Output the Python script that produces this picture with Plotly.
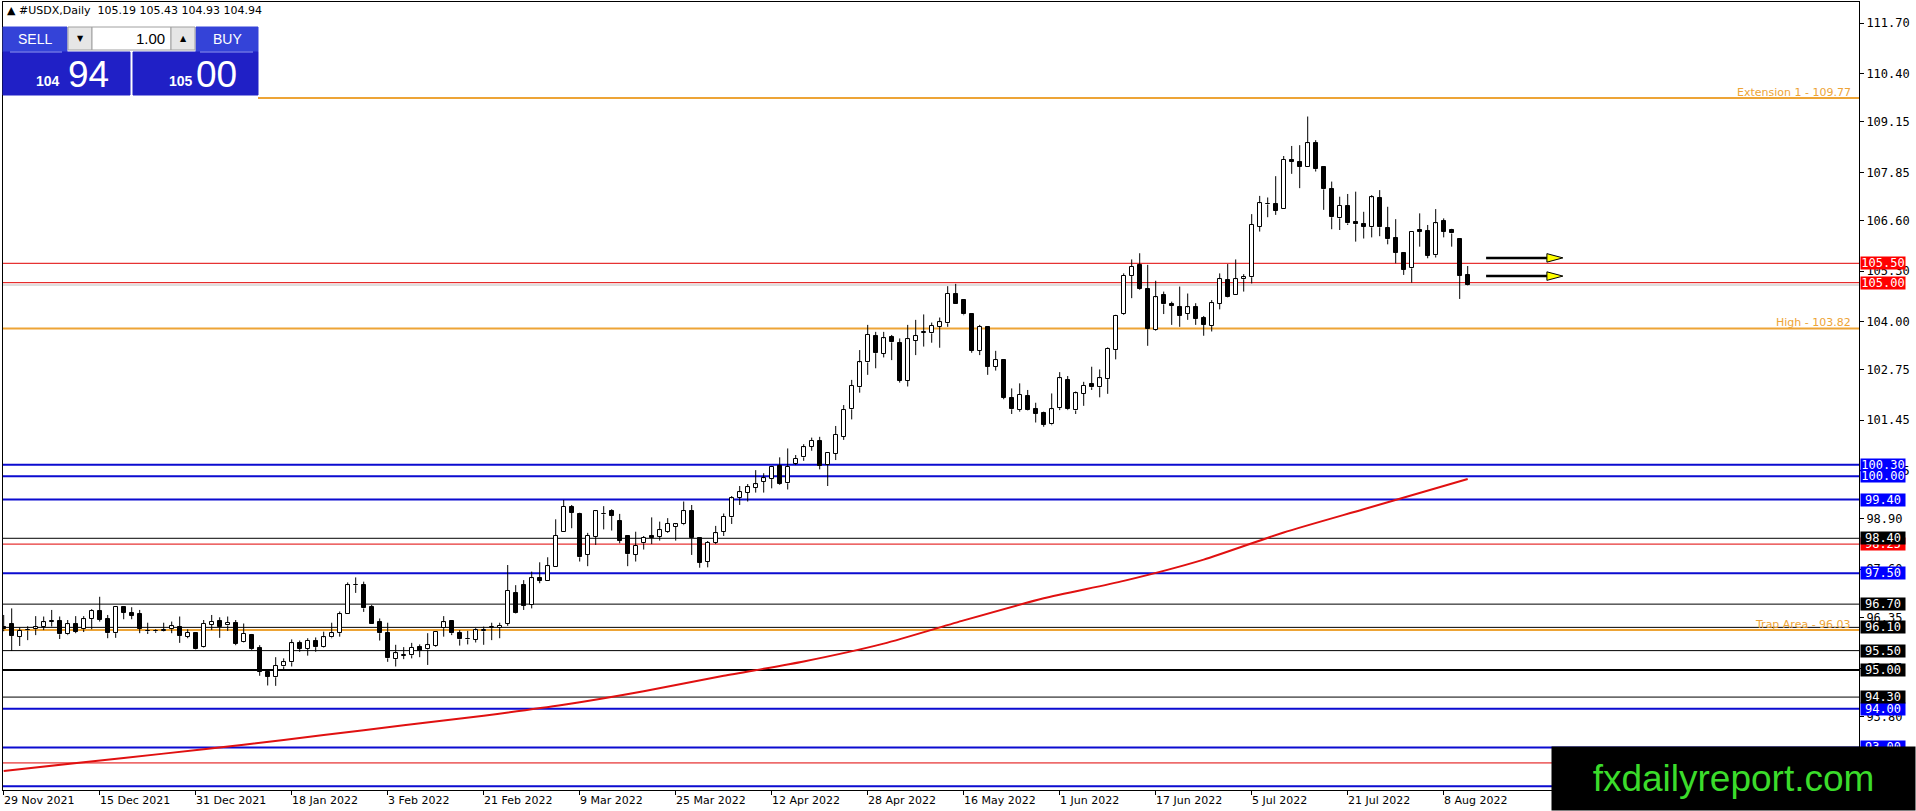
import plotly.graph_objects as go

# #USDX daily bars from 29 Nov 2021 to 11 Aug 2022
opens = [96.12, 96.19, 95.86, 96.02, 96.05, 96.12, 96.24, 96.27, 95.92, 96.18,
         96.05, 96.32, 96.52, 96.31, 95.95, 96.62, 96.48, 96.44, 96.01, 96.01,
         96.00, 96.05, 96.10, 95.86, 95.96, 95.60, 96.17, 96.26, 96.15, 96.22,
         95.71, 95.90, 95.56, 94.95, 94.81, 95.09, 95.20, 95.69, 95.54, 95.75,
         95.60, 95.84, 95.95, 96.44, 97.19, 97.19, 96.62, 96.25, 95.95, 95.28,
         95.37, 95.38, 95.59, 95.53, 95.63, 96.08, 96.26, 95.95, 95.79, 95.78,
         96.00, 96.08, 96.08, 96.19, 97.00, 97.19, 96.68, 97.37, 97.31, 97.67,
         98.57, 99.20, 99.04, 97.97, 98.44, 99.02, 99.11, 98.85, 98.46, 97.97,
         98.27, 98.46, 98.44, 98.57, 98.70, 98.76, 99.10, 98.40, 97.80, 98.29,
         98.57, 98.94, 99.45, 99.58, 99.71, 99.86, 99.93, 100.27, 99.82, 100.33,
         100.49, 100.76, 100.92, 100.29, 100.58, 101.02, 101.73, 102.30, 102.94, 103.62,
         103.16, 103.59, 103.43, 102.46, 103.50, 103.70, 103.69, 103.86, 103.95, 104.72,
         104.54, 104.19, 103.24, 103.86, 102.83, 103.00, 102.01, 101.71, 102.07, 101.73,
         101.63, 101.34, 101.76, 102.50, 101.70, 102.13, 102.38, 102.30, 102.51, 103.26,
         104.19, 105.17, 105.46, 104.83, 103.78, 104.68, 104.45, 104.36, 104.19, 104.36,
         104.08, 103.88, 104.45, 105.07, 104.68, 105.09, 105.14, 106.45, 107.02, 107.03,
         106.90, 108.18, 108.12, 107.98, 108.61, 107.98, 107.41, 106.66, 106.99, 106.56,
         106.51, 106.43, 107.18, 106.40, 106.16, 105.76, 105.37, 106.36, 106.33, 105.71,
         106.59, 106.36, 106.14, 105.19]
highs = [96.42, 96.59, 96.10, 96.13, 96.39, 96.38, 96.55, 96.38, 96.29, 96.39,
         96.39, 96.57, 96.89, 96.42, 96.65, 96.65, 96.62, 96.55, 96.22, 96.05,
         96.22, 96.25, 96.38, 96.05, 95.97, 96.29, 96.42, 96.36, 96.38, 96.29,
         96.20, 95.93, 95.64, 95.00, 95.33, 95.30, 95.79, 95.76, 95.82, 95.84,
         95.99, 96.22, 96.51, 97.26, 97.39, 97.28, 96.68, 96.33, 96.22, 95.65,
         95.59, 95.70, 95.66, 95.95, 96.00, 96.39, 96.27, 96.03, 96.01, 96.08,
         96.12, 96.22, 96.22, 97.71, 97.19, 97.32, 97.54, 97.78, 97.91, 98.89,
         99.39, 99.26, 99.06, 98.54, 99.13, 99.23, 99.15, 99.03, 98.48, 98.57,
         98.46, 98.94, 98.83, 98.92, 98.79, 99.35, 99.26, 98.42, 98.33, 98.72,
         99.04, 99.49, 99.75, 99.80, 100.16, 100.08, 100.27, 100.49, 100.72, 100.55,
         100.83, 101.00, 101.02, 100.59, 101.30, 101.84, 102.49, 103.26, 103.91, 103.73,
         103.73, 103.65, 103.56, 103.91, 104.04, 104.18, 103.97, 104.10, 104.91, 104.97,
         104.57, 104.21, 103.91, 103.88, 103.24, 103.02, 102.27, 102.40, 102.23, 101.90,
         101.67, 102.14, 102.69, 102.59, 102.19, 102.44, 102.83, 102.76, 103.33, 104.17,
         105.24, 105.60, 105.76, 105.46, 105.05, 104.77, 104.51, 104.90, 104.72, 104.47,
         104.14, 104.55, 105.24, 105.48, 105.60, 105.22, 106.77, 107.24, 107.20, 107.75,
         108.27, 108.53, 108.55, 109.29, 108.68, 107.99, 107.61, 107.22, 107.29, 107.35,
         106.83, 107.26, 107.39, 106.96, 106.64, 105.77, 106.30, 106.79, 106.49, 106.90,
         106.66, 106.39, 106.14, 105.43]
lows = [96.00, 95.49, 95.62, 95.77, 95.90, 96.03, 96.12, 95.80, 95.90, 95.95,
        95.98, 96.05, 96.25, 95.82, 95.83, 96.31, 96.31, 95.95, 95.93, 95.96,
        95.99, 95.95, 95.70, 95.82, 95.52, 95.58, 96.03, 95.83, 96.01, 95.64,
        95.70, 95.52, 94.85, 94.60, 94.59, 95.02, 95.09, 95.47, 95.37, 95.47,
        95.58, 95.82, 95.86, 96.44, 96.99, 96.50, 96.19, 95.76, 95.21, 95.09,
        95.28, 95.30, 95.33, 95.13, 95.60, 95.86, 95.90, 95.63, 95.66, 95.71,
        95.65, 95.77, 95.82, 96.14, 96.46, 96.55, 96.59, 97.24, 97.30, 97.67,
        98.57, 98.66, 97.80, 97.68, 98.23, 98.63, 98.60, 98.27, 97.68, 97.80,
        98.11, 98.25, 98.34, 98.54, 98.34, 98.74, 97.97, 97.64, 97.65, 98.25,
        98.46, 98.77, 99.26, 99.35, 99.58, 99.58, 99.69, 99.78, 99.66, 100.29,
        100.40, 100.66, 100.18, 99.75, 100.42, 100.94, 101.47, 102.16, 102.62, 102.79,
        103.07, 103.00, 102.42, 102.32, 103.13, 103.35, 103.45, 103.32, 103.86, 104.44,
        104.16, 103.19, 103.13, 102.62, 102.73, 101.99, 101.61, 101.67, 101.70, 101.39,
        101.28, 101.32, 101.71, 101.71, 101.61, 101.82, 102.23, 102.04, 102.13, 103.02,
        104.17, 104.60, 104.81, 103.37, 103.76, 104.19, 103.91, 103.86, 104.04, 103.91,
        103.63, 103.74, 104.31, 104.62, 104.68, 104.77, 104.98, 106.32, 106.69, 106.75,
        106.90, 107.81, 107.44, 107.98, 107.87, 106.88, 106.38, 106.36, 106.49, 106.06,
        106.14, 106.17, 106.20, 105.99, 105.50, 105.20, 105.00, 105.93, 105.63, 105.65,
        106.17, 105.93, 104.58, 104.93]
closes = [96.05, 95.88, 96.01, 96.03, 96.10, 96.23, 96.25, 95.92, 96.18, 95.98,
          96.31, 96.52, 96.29, 95.95, 96.63, 96.48, 96.40, 96.07, 96.00, 96.00,
          96.02, 96.13, 95.88, 95.96, 95.53, 96.19, 96.24, 96.12, 96.22, 95.67,
          95.93, 95.54, 94.96, 94.83, 95.10, 95.20, 95.69, 95.54, 95.75, 95.59,
          95.84, 95.95, 96.44, 97.19, 97.20, 96.59, 96.20, 95.95, 95.30, 95.43,
          95.38, 95.58, 95.50, 95.64, 95.99, 96.23, 95.95, 95.79, 95.80, 96.02,
          96.02, 96.10, 96.14, 97.05, 96.48, 96.66, 97.37, 97.31, 97.68, 98.47,
          99.22, 99.06, 97.91, 98.47, 99.10, 99.03, 98.98, 98.34, 97.99, 98.20,
          98.42, 98.42, 98.61, 98.77, 98.76, 99.10, 98.40, 97.77, 98.29, 98.53,
          98.96, 99.43, 99.59, 99.72, 99.79, 99.95, 100.25, 99.80, 100.25, 100.46,
          100.75, 100.92, 100.27, 100.59, 101.08, 101.71, 102.33, 102.94, 103.65, 103.18,
          103.56, 103.46, 102.47, 103.54, 103.62, 103.71, 103.89, 103.98, 104.72, 104.44,
          104.18, 103.24, 103.86, 102.83, 103.00, 102.03, 101.73, 102.10, 101.71, 101.61,
          101.33, 101.73, 102.53, 101.73, 102.14, 102.34, 102.30, 102.53, 103.29, 104.15,
          105.18, 105.41, 104.83, 103.80, 104.62, 104.44, 104.40, 104.15, 104.36, 104.06,
          103.91, 104.47, 105.09, 104.64, 105.09, 105.14, 106.49, 107.05, 107.04, 106.86,
          108.18, 108.12, 107.99, 108.60, 107.93, 107.41, 106.69, 106.99, 106.53, 106.51,
          106.45, 107.20, 106.43, 106.12, 105.77, 105.34, 106.30, 106.32, 105.69, 106.53,
          106.32, 106.27, 105.18, 104.94]

# long moving average (red curve), read at a few bars
ma_idx = [0, 10, 20, 30, 40, 50, 60, 70, 80, 90, 100, 110, 120, 130, 140, 150, 160, 170, 183]
ma_vals = [92.39, 92.62, 92.84, 93.07, 93.32, 93.57, 93.82, 94.10, 94.45, 94.85,
           95.22, 95.68, 96.28, 96.85, 97.30, 97.85, 98.55, 99.15, 99.93]

date_idx = [0, 12, 24, 36, 48, 60, 72, 84, 96, 108, 120, 132, 144, 156, 168, 180]
date_labels = ["29 Nov 2021", "15 Dec 2021", "31 Dec 2021", "18 Jan 2022", "3 Feb 2022",
               "21 Feb 2022", "9 Mar 2022", "25 Mar 2022", "12 Apr 2022", "28 Apr 2022",
               "16 May 2022", "1 Jun 2022", "17 Jun 2022", "5 Jul 2022", "21 Jul 2022",
               "8 Aug 2022"]

price_ticks = [111.70, 110.40, 109.15, 107.85, 106.60, 105.30, 104.00, 102.75, 101.45,
               100.15, 98.90, 97.60, 96.35, 95.05, 93.80]

# levels drawn on the chart
red_levels = [105.50, 105.00, 98.25, 92.60]
blue_levels = [100.30, 100.00, 99.40, 97.50, 94.00, 93.00, 92.00]
black_levels = [98.40, 96.70, 96.10, 95.50, 95.00, 94.30]
orange_levels = [109.77, 103.82, 96.03]
orange_names = ["Extension 1", "High", "Trap Area"]
arrow_levels = [105.64, 105.17]

ORANGE = "#eda436"
BLUE = "#0b0bd0"
RED = "#e00000"
W, H = 1916, 811
PL, PR, PT, PB = 3, 1859, 2, 790   # plot area in pixels


def px(x):
    return (x - PL) / (PR - PL)


def py(y):
    return (PB - y) / (PB - PT)


n = len(closes)
bars = list(range(n))
up = [i for i in bars if closes[i] >= opens[i]]
down = [i for i in bars if closes[i] < opens[i]]


def bodies(ids):
    base = [min(opens[i], closes[i]) for i in ids]
    size = [max(abs(closes[i] - opens[i]), 0.015) for i in ids]
    return base, size


# wicks split above/below the body so they do not cross white bodies
wx, wy = [], []
for i in bars:
    top = max(opens[i], closes[i])
    bot = min(opens[i], closes[i])
    wx += [i, i, None, i, i, None]
    wy += [highs[i], top, None, bot, lows[i], None]

fig = go.Figure()
fig.add_trace(go.Scatter(x=ma_idx, y=ma_vals, mode="lines", hoverinfo="skip",
                         line=dict(color="#e01010", width=2, shape="spline", smoothing=0.6)))
up_base, up_size = bodies(up)
dn_base, dn_size = bodies(down)
fig.add_trace(go.Bar(x=up, y=up_size, base=up_base, width=0.5,
                     marker=dict(color="white", line=dict(color="black", width=1))))
fig.add_trace(go.Bar(x=down, y=dn_size, base=dn_base, width=0.5,
                     marker=dict(color="black", line=dict(color="black", width=1))))
fig.add_trace(go.Scatter(x=wx, y=wy, mode="lines", hoverinfo="skip",
                         line=dict(color="black", width=1)))

shapes = []


def hline(p, color, width, x0=0):
    shapes.append(dict(type="line", xref="paper", yref="y", x0=x0, x1=1, y0=p, y1=p,
                       line=dict(color=color, width=width), layer="below"))


for p in red_levels:
    hline(p, RED, 1)
for p in blue_levels:
    hline(p, BLUE, 2)
for p in black_levels:
    hline(p, "black", 2 if p == 95.00 else 1)
for p, name in zip(orange_levels, orange_names):
    hline(p, ORANGE, 2, x0=px(258) if p == orange_levels[0] else 0)
hline(closes[-1], "#bdbdbd", 1)  # bid line

# yellow arrows pointing at the two red levels
for p in arrow_levels:
    shapes.append(dict(type="line", xref="x", yref="y", x0=185.3, x1=193.0, y0=p, y1=p,
                       line=dict(color="black", width=2.5)))
    shapes.append(dict(type="path", xref="x", yref="y",
                       path=f"M 192.9 {p + 0.11} L 194.9 {p} L 192.9 {p - 0.11} Z",
                       fillcolor="#ffff00", line=dict(color="black", width=1)))


# one-click trading panel
def rect(x0, y0, x1, y1, fill, line=None):
    shapes.append(dict(type="rect", xref="paper", yref="paper", x0=px(x0), x1=px(x1),
                       y0=py(y1), y1=py(y0), fillcolor=fill, layer="above",
                       line=dict(color=line or fill, width=1)))


rect(3, 27, 67, 52, "#3443d8")
rect(196, 27, 258, 52, "#3443d8")
rect(3, 52, 130, 95, "#2020c6")
rect(133, 52, 258, 95, "#2020c6")
rect(68, 27, 92, 50, "#e6e6e6", "#a0a0a0")
rect(92, 27, 171, 50, "white", "#a0a0a0")
rect(171, 27, 195, 50, "#e6e6e6", "#a0a0a0")
shapes.append(dict(type="line", xref="paper", yref="paper", x0=px(10), x1=px(62),
                   y0=py(52), y1=py(52), line=dict(color="#8f9af0", width=1), layer="above"))
shapes.append(dict(type="line", xref="paper", yref="paper", x0=px(200), x1=px(253),
                   y0=py(52), y1=py(52), line=dict(color="#8f9af0", width=1), layer="above"))

ann = []


def text(x, y, s, size, color="black", family="DejaVu Sans", anchor="center", bold=False):
    ann.append(dict(xref="paper", yref="paper", x=px(x), y=py(y), text=f"<b>{s}</b>" if bold else s,
                    showarrow=False, xanchor=anchor, yanchor="middle",
                    font=dict(family=family, size=size, color=color)))


text(5, 10, f"▲ #USDX,Daily  {opens[-1]:.2f} {highs[-1]:.2f} {lows[-1]:.2f} {closes[-1]:.2f}", 11,
     anchor="left")
text(35, 39, "SELL", 14, "white", "Liberation Sans")
text(227, 39, "BUY", 14, "white", "Liberation Sans")
text(167, 38, "1.00", 15, "black", "Liberation Sans", anchor="right")
text(80, 39, "▼", 8)
text(183, 38, "▲", 8)
bid_s = f"{closes[-1]:.2f}"
ask_s = "105.00"
text(62, 81, bid_s.split(".")[0], 14, "white", "Liberation Sans", anchor="right", bold=True)
text(88, 74, bid_s.split(".")[1], 37, "white", "Liberation Sans")
text(195, 81, ask_s.split(".")[0], 14, "white", "Liberation Sans", anchor="right", bold=True)
text(216, 74, ask_s.split(".")[1], 37, "white", "Liberation Sans")

# date labels start at their tick, as MT4 draws them
for i, lab in zip(date_idx, date_labels):
    ann.append(dict(xref="x", yref="paper", x=i, y=py(800), text=lab, showarrow=False,
                    xanchor="left", yanchor="middle", xshift=-2,
                    font=dict(family="DejaVu Sans", size=11, color="black")))

# names of the orange levels
for p, name in zip(orange_levels, orange_names):
    ann.append(dict(xref="paper", yref="y", x=px(1852), y=p, text=f"{name} - {p:.2f}",
                    showarrow=False, xanchor="right", yanchor="bottom", yshift=-2, borderpad=0,
                    font=dict(family="DejaVu Sans", size=11, color=ORANGE)))


# price boxes on the right scale
def price_box(p, color):
    ann.append(dict(xref="paper", yref="y", x=px(1860), y=p, text=f"{p:.2f}", showarrow=False,
                    xanchor="left", yanchor="middle", bgcolor=color, width=44, height=12,
                    borderpad=0, font=dict(family="DejaVu Sans Mono", size=12, color="white")))


for p in red_levels:
    price_box(p, "#ff0000")
for p in blue_levels:
    price_box(p, "#0000ff")
for p in black_levels:
    price_box(p, "black")

# site logo, bottom right, drawn last so it covers what is under it
ann.append(dict(xref="paper", yref="paper", x=px(W), y=py(H), text="fxdailyreport.com",
                showarrow=False, xanchor="right", yanchor="bottom", width=363, height=63,
                bgcolor="black", borderpad=0, align="center",
                font=dict(family="Liberation Sans", size=37, color="#3bdc2b")))

fig.update_layout(
    width=W, height=H,
    margin=dict(l=PL, r=W - PR, t=PT, b=H - PB, pad=0),
    plot_bgcolor="white", paper_bgcolor="white",
    showlegend=False, barmode="overlay", bargap=0,
    shapes=shapes, annotations=ann,
    xaxis=dict(range=[-0.7 / 8.0, (PR - 3.7) / 8.0], showgrid=False, zeroline=False,
               showline=True, mirror=True, linecolor="black", linewidth=1,
               tickvals=date_idx, ticks="outside", ticklen=4, tickcolor="black",
               showticklabels=False, fixedrange=True),
    yaxis=dict(side="right", range=[91.901, 112.247], showgrid=False, zeroline=False,
               showline=True, mirror=True, linecolor="black", linewidth=1,
               tickvals=price_ticks, ticktext=[f"{v:.2f}" for v in price_ticks],
               ticks="outside", ticklen=4, tickcolor="black",
               tickfont=dict(family="DejaVu Sans Mono", size=12, color="black"),
               fixedrange=True),
)

# the page body has a default 8px margin; drop it so the chart fills the window
fig.write_html("out.html", config={"displayModeBar": False},
               post_script="document.body.style.margin='0';document.body.style.overflow='hidden';")
